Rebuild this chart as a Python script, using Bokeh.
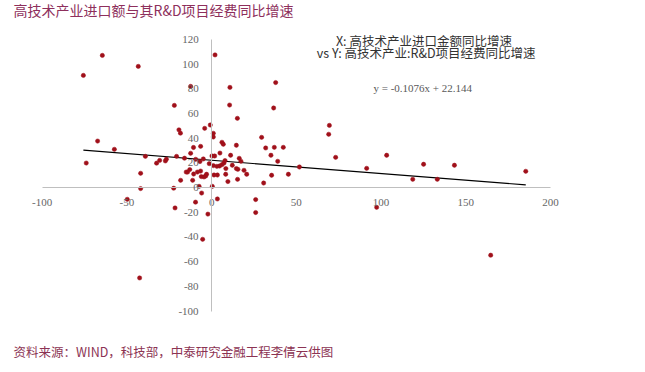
from bokeh.plotting import figure
from bokeh.models import Range1d, FixedTicker, Label
from bokeh.embed import file_html
from bokeh.resources import INLINE

# ---- data ----
x_vals = [-75.7, -64.5, -43.3, -12.4, -22.0, -19.3, -18.4, -4.1, -0.8, -67.3,
          -57.4, -74.0, -39.1, -32.5, -30.7, -27.3, -26.7, -20.7, -16.0, -12.4,
          -10.7, -6.5, -41.9, -41.9, -49.8, -42.5, -22.4, -21.6, -9.5, -2.2,
          -5.3, -5.9, -7.4, -18.3, 2.0, 10.8, 10.6, 37.8, 36.6, 15.2,
          1.0, 1.0, 6.1, 6.9, 14.6, 29.5, 31.9, 37.0, 42.3, 35.0,
          39.0, 35.4, 45.3, 51.8, 30.7, -9.4, -6.9, -4.9, 0.2, 1.8,
          4.9, 11.2, 16.3, 17.3, -1.4, 1.0, 3.1, 4.7, 6.1, 7.3,
          7.9, 8.4, 12.2, 14.6, 15.5, 19.1, 20.7, 15.3, 9.6, 8.3,
          3.4, 1.4, -3.0, -3.5, -4.5, -6.5, -8.4, -10.6, -11.2, -12.9,
          -14.2, -15.0, -6.1, 0.4, 3.4, 26.0, 26.0, 69.5, 69.1, 73.2,
          91.5, 103.3, 118.7, 125.1, 133.2, 143.3, 185.4, 97.4, 164.7]
y_vals = [90.9, 107.1, 98.2, 82.0, 66.6, 46.8, 44.1, 48.0, 50.7, 37.7,
          31.0, 19.9, 25.3, 19.8, 22.0, 21.6, 23.0, 25.3, 23.8, 27.8,
          32.5, 33.4, 11.6, -0.8, -9.5, -73.2, -0.5, -16.5, -11.8, -21.5,
          -41.9, -4.4, 1.0, 5.9, 107.5, 81.2, 66.9, 85.1, 64.5, 56.1,
          44.0, 41.0, 36.7, 35.1, 34.3, 40.7, 32.1, 32.6, 32.6, 26.2,
          21.3, 10.0, 10.8, 16.7, 3.7, 22.9, 21.1, 23.2, 25.6, 25.6,
          28.0, 26.2, 23.7, 21.3, 19.4, 17.8, 17.2, 17.5, 18.6, 19.9,
          21.9, 15.4, 18.1, 15.4, 14.8, 14.0, 10.8, 6.7, 4.9, 10.8,
          10.2, 10.2, 10.8, 9.4, 8.6, 13.4, 12.6, 11.0, 5.9, 14.6,
          12.6, 12.6, 8.9, 1.0, -9.2, -9.7, -20.2, 50.4, 43.2, 24.5,
          15.6, 26.2, 6.7, 18.9, 6.7, 18.1, 13.2, -16.0, -54.8]

slope = -0.1076
intercept = 22.144
fit_x = [min(x_vals), max(x_vals)]
fit_y = [slope * v + intercept for v in fit_x]

x_ticks = [-100, -50, 0, 50, 100, 150, 200]
y_ticks = [-100, -80, -60, -40, -20, 0, 20, 40, 60, 80, 100, 120]
x_axis_bounds = (-100, 200)
y_axis_bounds = (-100, 120)

title_text = "高技术产业进口额与其R&D项目经费同比增速"
legend_line1 = "X: 高技术产业进口金额同比增速"
legend_line2 = "vs Y: 高技术产业:R&D项目经费同比增速"
equation_text = "y = -0.1076x + 22.144"
source_text = "资料来源：WIND，科技部，中泰研究金融工程李倩云供图"

# ---- figure: the frame covers the whole canvas ----
p = figure(width=637, height=364, output_backend="svg", toolbar_location=None,
           x_range=Range1d(-124.61, 251.35), y_range=Range1d(-143.35, 151.60),
           min_border=0, min_border_left=0, min_border_right=0,
           min_border_top=0, min_border_bottom=0)
p.outline_line_color = None
p.grid.visible = False
p.background_fill_color = "white"
p.border_fill_color = "white"

tick_font = "Liberation Serif"
tick_color = "#666666"
axis_color = "#bfbfbf"

for ax in (p.xaxis[0], p.yaxis[0]):
    ax.fixed_location = 0
    ax.axis_line_color = axis_color
    ax.axis_line_width = 1
    ax.major_tick_line_color = None
    ax.minor_tick_line_color = None
    ax.major_label_text_font = tick_font
    ax.major_label_text_font_size = "11px"
    ax.major_label_text_color = tick_color

p.xaxis[0].bounds = x_axis_bounds
p.yaxis[0].bounds = y_axis_bounds
p.xaxis[0].ticker = FixedTicker(ticks=x_ticks)
p.yaxis[0].ticker = FixedTicker(ticks=y_ticks)
p.xaxis[0].major_label_overrides = {t: str(t) for t in x_ticks}
p.yaxis[0].major_label_overrides = {t: str(t) for t in y_ticks}
p.xaxis[0].major_label_standoff = 5
p.yaxis[0].major_label_standoff = 7

# regression line
p.line(fit_x, fit_y, line_color="black", line_width=1.2)

# scatter points
p.scatter(x_vals, y_vals, size=4.3, fill_color="#a0101a", line_color="#a0101a",
          line_width=0.5)

cjk = "Noto Sans CJK SC"

p.add_layout(Label(x=-116.94, y=143.5, text=title_text, text_font=cjk,
                   text_font_size="14px", text_color="#8e2f5c",
                   text_baseline="middle", text_align="left"))
p.add_layout(Label(x=-116.94, y=-132.8, text=source_text, text_font=cjk,
                   text_font_size="12.5px", text_color="#8c3353",
                   text_baseline="middle", text_align="left"))
p.add_layout(Label(x=125.3, y=119.2, text=legend_line1, text_font=cjk,
                   text_font_size="12.5px", text_color="#333333",
                   text_baseline="middle", text_align="center"))
p.add_layout(Label(x=126.6, y=109.5, text=legend_line2, text_font=cjk,
                   text_font_size="12.5px", text_color="#333333",
                   text_baseline="middle", text_align="center"))
p.add_layout(Label(x=124.6, y=80.3, text=equation_text, text_font="Liberation Serif",
                   text_font_size="11px", text_color="#595959",
                   text_baseline="middle", text_align="center"))

open("out.html", "w").write(file_html(p, INLINE))
